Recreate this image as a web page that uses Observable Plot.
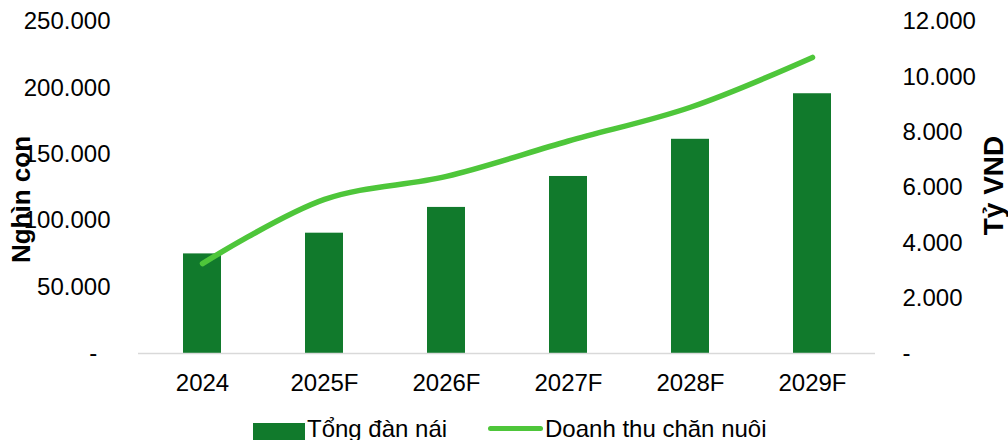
<!DOCTYPE html>
<html>
<head>
<meta charset="utf-8">
<script src="https://cdn.jsdelivr.net/npm/d3@7"></script>
<script src="https://cdn.jsdelivr.net/npm/@observablehq/plot@0.6"></script>
<style>
  html, body { margin: 0; padding: 0; background: #fff; }
  #wrap { position: relative; width: 1008px; height: 440px; overflow: hidden; font-family: "Liberation Sans", Arial, sans-serif; }
  #legend { position: absolute; left: 0; top: 413px; width: 1008px; height: 40px; font-size: 24px; color: #000; }
  .sw-bar { position: absolute; left: 253px; top: 10px; width: 52px; height: 20px; background: #117a2c; }
  .sw-line { position: absolute; left: 488px; top: 13px; width: 55px; height: 5px; border-radius: 3px; background: #4ec63a; }
  .lab { position: absolute; top: 2px; line-height: 28px; white-space: nowrap; }
</style>
</head>
<body>
<div id="wrap">
  <div id="chart"></div>
  <div id="legend">
    <div class="sw-bar"></div><div class="lab" style="left:307px">Tổng đàn nái</div>
    <div class="sw-line"></div><div class="lab" style="left:545px">Doanh thu chăn nuôi</div>
  </div>
</div>
<script>
const categories = ["2024", "2025F", "2026F", "2027F", "2028F", "2029F"];
const sows = [75000, 90600, 110000, 133300, 161300, 195600];      // Nghìn con (left axis)
const revenue = [3250, 5570, 6400, 7680, 8900, 10700];            // Tỷ VND (right axis)
const leftTicks = [0, 50000, 100000, 150000, 200000, 250000];
const rightTicks = [0, 2000, 4000, 6000, 8000, 10000, 12000];
const leftMax = 250000;
const rightMax = 12000;

const loc = d3.formatLocale({decimal: ",", thousands: ".", grouping: [3], currency: ["", ""]});
const fmt = loc.format(",.0f");
const ratio = leftMax / rightMax;

const barData = categories.map((c, i) => ({cat: c, v: sows[i]}));
const lineData = categories.map((c, i) => ({cat: c, v: revenue[i] * ratio}));

const chart = Plot.plot({
  width: 1008,
  height: 405,
  marginLeft: 138,
  marginRight: 133,
  marginTop: 21,
  marginBottom: 52,
  style: {fontFamily: "Liberation Sans, Arial, sans-serif", color: "#000", background: "#fff"},
  x: {type: "band", domain: categories, paddingInner: 0.69, paddingOuter: 0.345},
  y: {domain: [0, leftMax]},
  marks: [
    Plot.barY(barData, {x: "cat", y: "v", fill: "#117a2c"}),
    Plot.ruleY([0], {stroke: "#d9d9d9", strokeWidth: 1.5}),
    Plot.line(lineData, {x: "cat", y: "v", stroke: "#4ec63a", strokeWidth: 5.5, curve: "catmull-rom", strokeLinecap: "round", strokeLinejoin: "round"}),
    Plot.axisX({tickSize: 0, tickPadding: 20, fontSize: 24, label: null}),
    Plot.axisY(leftTicks, {anchor: "left", tickSize: 0, tickPadding: 28, fontSize: 24, label: null,
      tickFormat: d => d === 0 ? "-\u00a0\u00a0" : fmt(d)}),
    Plot.axisY(rightTicks.map(t => t * ratio), {anchor: "right", tickSize: 0, tickPadding: 27, fontSize: 24, label: null,
      tickFormat: d => d === 0 ? "-" : fmt(Math.round(d / ratio))}),
    Plot.text(["Nghìn con"], {frameAnchor: "left", textAnchor: "middle", dx: -117, dy: 12, rotate: -90, fontSize: 26, fontWeight: "bold", fill: "#000"}),
    Plot.text(["Tỷ VND"], {frameAnchor: "right", textAnchor: "middle", dx: 119, dy: -2, rotate: -90, fontSize: 28, fontWeight: "bold", fill: "#000"})
  ]
});
document.getElementById("chart").appendChild(chart);
</script>
</body>
</html>
